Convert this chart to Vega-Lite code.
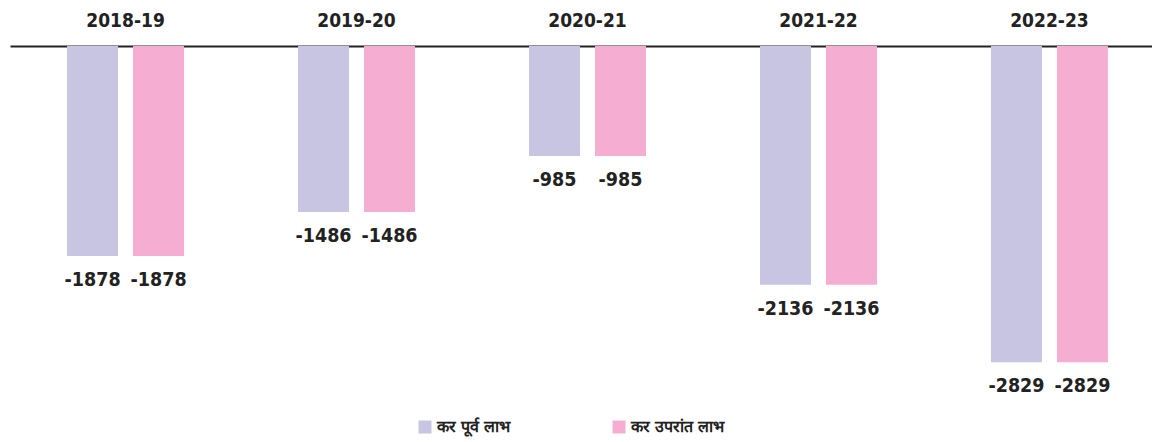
{
  "$schema": "https://vega.github.io/schema/vega-lite/v6.json",
  "autosize": {"type": "none"},
  "padding": {"left": 10, "top": 46, "right": 0, "bottom": 26},
  "width": 1155,
  "height": 370,
  "config": {
    "view": {"stroke": null},
    "font": "DejaVu Sans Condensed, Liberation Sans, sans-serif"
  },
  "data": {
    "values": [
      {"year": "2018-19", "series": "कर पूर्व लाभ", "value": -1878},
      {"year": "2018-19", "series": "कर उपरांत लाभ", "value": -1878},
      {"year": "2019-20", "series": "कर पूर्व लाभ", "value": -1486},
      {"year": "2019-20", "series": "कर उपरांत लाभ", "value": -1486},
      {"year": "2020-21", "series": "कर पूर्व लाभ", "value": -985},
      {"year": "2020-21", "series": "कर उपरांत लाभ", "value": -985},
      {"year": "2021-22", "series": "कर पूर्व लाभ", "value": -2136},
      {"year": "2021-22", "series": "कर उपरांत लाभ", "value": -2136},
      {"year": "2022-23", "series": "कर पूर्व लाभ", "value": -2829},
      {"year": "2022-23", "series": "कर उपरांत लाभ", "value": -2829}
    ]
  },
  "encoding": {
    "x": {
      "field": "year", "type": "nominal", "sort": null,
      "scale": {"paddingInner": 0.4935, "paddingOuter": 0.247},
      "axis": {
        "orient": "top", "title": null, "ticks": false, "labelAngle": 0,
        "labelFontSize": 19, "labelFontWeight": "bold", "labelColor": "#222222",
        "labelPadding": 16, "domainColor": "#222222", "domainWidth": 2
      }
    },
    "xOffset": {
      "field": "series", "type": "nominal",
      "sort": ["कर पूर्व लाभ", "कर उपरांत लाभ"],
      "scale": {"paddingInner": 0.227, "paddingOuter": 0}
    },
    "y": {
      "field": "value", "type": "quantitative",
      "scale": {"domain": [-3310, 0], "nice": false},
      "axis": null
    }
  },
  "layer": [
    {
      "mark": {"type": "bar"},
      "encoding": {
        "color": {
          "field": "series", "type": "nominal",
          "sort": ["कर पूर्व लाभ", "कर उपरांत लाभ"],
          "scale": {"domain": ["कर पूर्व लाभ", "कर उपरांत लाभ"], "range": ["#c8c5e3", "#f5aed1"]},
          "legend": {
            "orient": "none", "legendX": 407, "legendY": 373, "padding": 0,
            "direction": "horizontal", "title": null,
            "symbolType": "square", "symbolSize": 169, "symbolStrokeWidth": 0,
            "labelFontSize": 16, "labelFontWeight": "bold", "labelColor": "#222222",
            "columnPadding": 100, "labelOffset": 4
          }
        }
      }
    },
    {
      "transform": [{"calculate": "toString(datum.value)", "as": "label"}],
      "mark": {"type": "text", "baseline": "middle", "dy": 24, "fontSize": 19.5, "fontWeight": "bold", "color": "#222222"},
      "encoding": {"text": {"field": "label", "type": "nominal"}}
    }
  ]
}
